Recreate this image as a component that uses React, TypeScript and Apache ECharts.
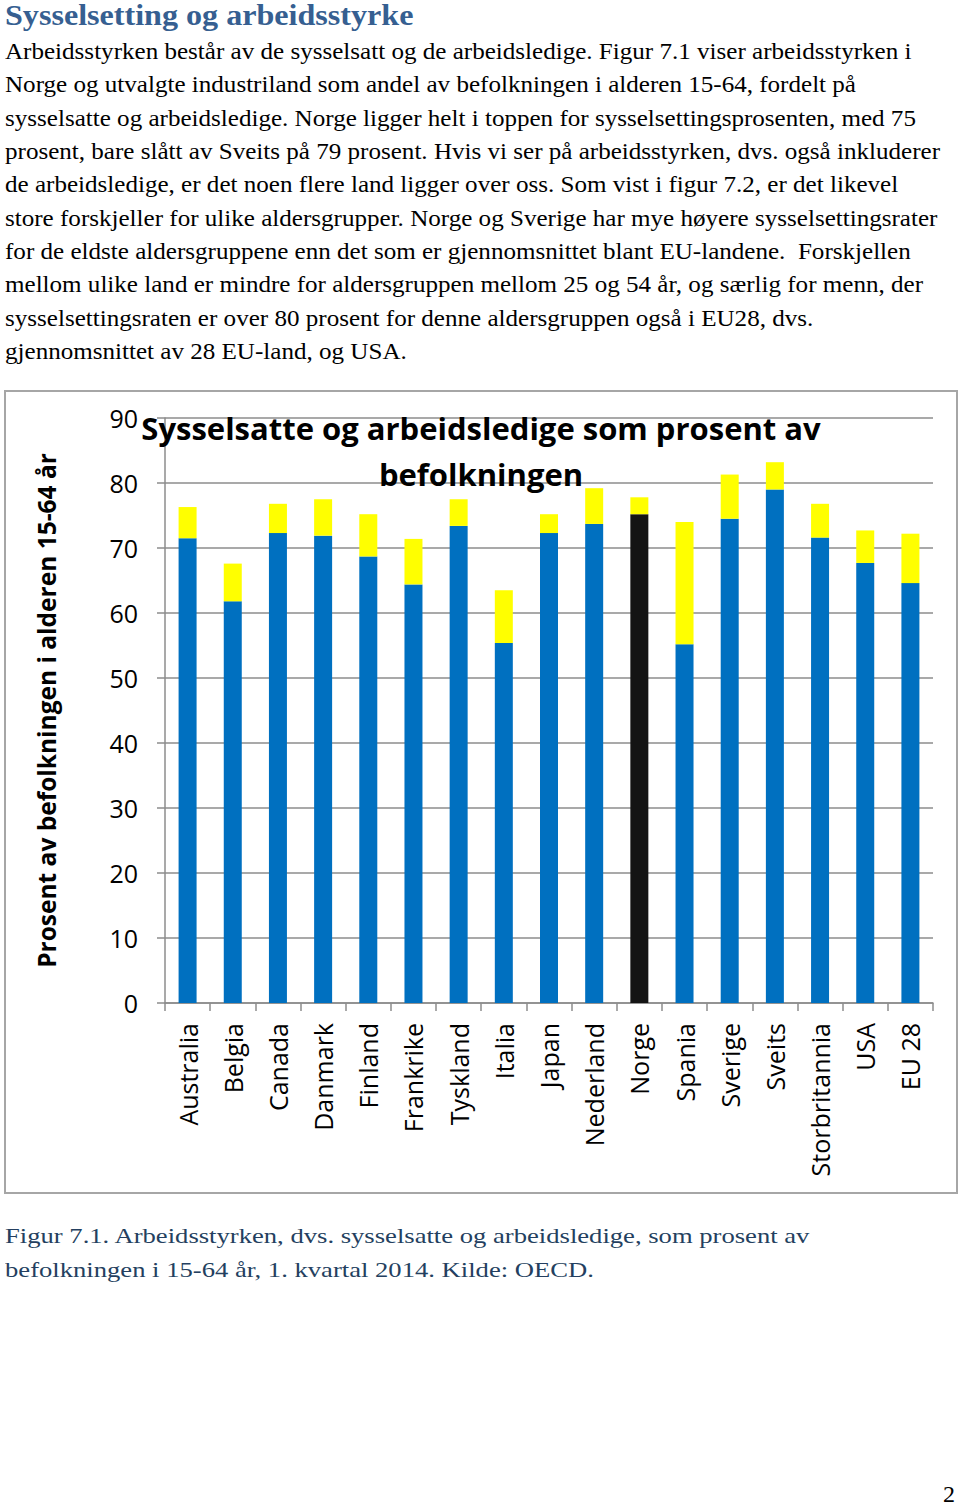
import React, { useEffect, useRef } from "react";
import * as echarts from "echarts";

const categories = [
  "Australia", "Belgia", "Canada", "Danmark", "Finland", "Frankrike", "Tyskland", "Italia",
  "Japan", "Nederland", "Norge", "Spania", "Sverige", "Sveits", "Storbritannia", "USA", "EU 28",
];
const sysselsatte = [71.5, 61.8, 72.3, 71.9, 68.7, 64.4, 73.4, 55.4, 72.3, 73.7, 75.2, 55.2, 74.5, 79.0, 71.6, 67.7, 64.6];
const arbeidsledige = [4.8, 5.8, 4.5, 5.6, 6.5, 7.0, 4.1, 8.1, 2.9, 5.5, 2.6, 18.8, 6.8, 4.2, 5.2, 5.0, 7.6];
const highlight = "Norge";

const chartTitle = "Sysselsatte og arbeidsledige som prosent av\nbefolkningen";
const yName = "Prosent av befolkningen i alderen 15-64 år";

const heading = "Sysselsetting og arbeidsstyrke";
const bodyLines = [
  "Arbeidsstyrken består av de sysselsatt og de arbeidsledige. Figur 7.1 viser arbeidsstyrken i",
  "Norge og utvalgte industriland som andel av befolkningen i alderen 15-64, fordelt på",
  "sysselsatte og arbeidsledige. Norge ligger helt i toppen for sysselsettingsprosenten, med 75",
  "prosent, bare slått av Sveits på 79 prosent. Hvis vi ser på arbeidsstyrken, dvs. også inkluderer",
  "de arbeidsledige, er det noen flere land ligger over oss. Som vist i figur 7.2, er det likevel",
  "store forskjeller for ulike aldersgrupper. Norge og Sverige har mye høyere sysselsettingsrater",
  "for de eldste aldersgruppene enn det som er gjennomsnittet blant EU-landene.\u00a0 Forskjellen",
  "mellom ulike land er mindre for aldersgruppen mellom 25 og 54 år, og særlig for menn, der",
  "sysselsettingsraten er over 80 prosent for denne aldersgruppen også i EU28, dvs.",
  "gjennomsnittet av 28 EU-land, og USA.",
];
const captionLines = [
  "Figur 7.1. Arbeidsstyrken, dvs. sysselsatte og arbeidsledige, som prosent av",
  "befolkningen i 15-64 år, 1. kvartal 2014. Kilde: OECD.",
];
const pageNumber = "2";

const SANS = "'Open Sans', 'Noto Sans', sans-serif";
const SERIF = "'Liberation Serif', 'DejaVu Serif', serif";

function Chart() {
  const ref = useRef<HTMLDivElement>(null);
  useEffect(() => {
    if (!ref.current) return;
    const chart = echarts.init(ref.current, undefined, { renderer: "svg" });
    chart.setOption({
      animation: false,
      backgroundColor: "#ffffff",
      title: {
        text: chartTitle,
        left: "center",
        top: 10,
        textStyle: {
          fontFamily: SANS,
          fontSize: 31,
          fontWeight: "bold",
          color: "#000000",
          lineHeight: 46,
        },
      },
      graphic: [
        {
          type: "rect",
          silent: true,
          z: -10,
          shape: { x: 1, y: 1, width: 952, height: 802 },
          style: { fill: "none", stroke: "#a6a6a6", lineWidth: 2 },
        },
      ],
      grid: { left: 161, top: 28, right: 25, bottom: 191, containLabel: false },
      xAxis: {
        type: "category",
        data: categories,
        axisLine: { show: true, lineStyle: { color: "#8c8c8c", width: 1.5 } },
        axisTick: { show: true, length: 8, lineStyle: { color: "#8c8c8c", width: 1.5 } },
        axisLabel: {
          rotate: 90,
          margin: 20,
          interval: 0,
          fontFamily: SANS,
          fontSize: 25,
          color: "#000000",
        },
      },
      yAxis: {
        type: "value",
        min: 0,
        max: 90,
        interval: 10,
        name: yName,
        nameLocation: "middle",
        nameGap: 106,
        nameTextStyle: {
          fontFamily: SANS,
          fontSize: 24.5,
          fontWeight: "bold",
          color: "#000000",
        },
        axisLine: { show: true, lineStyle: { color: "#8c8c8c", width: 1.5 } },
        axisTick: { show: true, length: 8, lineStyle: { color: "#8c8c8c", width: 1.5 } },
        splitLine: { show: true, lineStyle: { color: "#8c8c8c", width: 1.5 } },
        axisLabel: {
          margin: 27,
          fontFamily: SANS,
          fontSize: 25,
          color: "#000000",
        },
      },
      series: [
        {
          name: "Sysselsatte",
          type: "bar",
          stack: "total",
          barWidth: 18,
          itemStyle: { color: "#0070c0" },
          data: sysselsatte.map((v, i) =>
            categories[i] === highlight ? { value: v, itemStyle: { color: "#141414" } } : v
          ),
        },
        {
          name: "Arbeidsledige",
          type: "bar",
          stack: "total",
          barWidth: 18,
          itemStyle: { color: "#ffff00" },
          data: arbeidsledige,
        },
      ],
    });
    return () => chart.dispose();
  }, []);
  return (
    <div
      ref={ref}
      style={{ position: "absolute", left: 4, top: 390, width: 954, height: 804 }}
    />
  );
}

export default function App() {
  return (
    <div
      style={{
        position: "absolute",
        left: 0,
        top: 0,
        width: 960,
        height: 1508,
        background: "#ffffff",
        overflow: "hidden",
        fontFamily: SERIF,
        color: "#000000",
      }}
    >
      <div
        style={{
          position: "absolute",
          left: 5,
          top: 1,
          fontSize: 29,
          lineHeight: "29px",
          fontWeight: "bold",
          color: "#365f91",
          whiteSpace: "nowrap",
          transform: "scaleX(1.107)",
          transformOrigin: "0 0",
        }}
      >
        {heading}
      </div>
      <div
        style={{
          position: "absolute",
          left: 5,
          top: 35,
          fontSize: 22.7,
          lineHeight: "33.33px",
          whiteSpace: "pre",
          transform: "scaleX(1.105)",
          transformOrigin: "0 0",
        }}
      >
        {bodyLines.map((l, i) => (
          <div key={i}>{l}</div>
        ))}
      </div>
      <Chart />
      <div
        style={{
          position: "absolute",
          left: 5,
          top: 1219,
          fontSize: 22,
          lineHeight: "34px",
          color: "#243f60",
          whiteSpace: "pre",
          transform: "scaleX(1.21)",
          transformOrigin: "0 0",
        }}
      >
        {captionLines.map((l, i) => (
          <div key={i}>{l}</div>
        ))}
      </div>
      <div
        style={{
          position: "absolute",
          left: 943,
          top: 1485,
          fontSize: 24,
          lineHeight: "18px",
          whiteSpace: "pre",
        }}
      >
        {pageNumber}
      </div>
    </div>
  );
}
